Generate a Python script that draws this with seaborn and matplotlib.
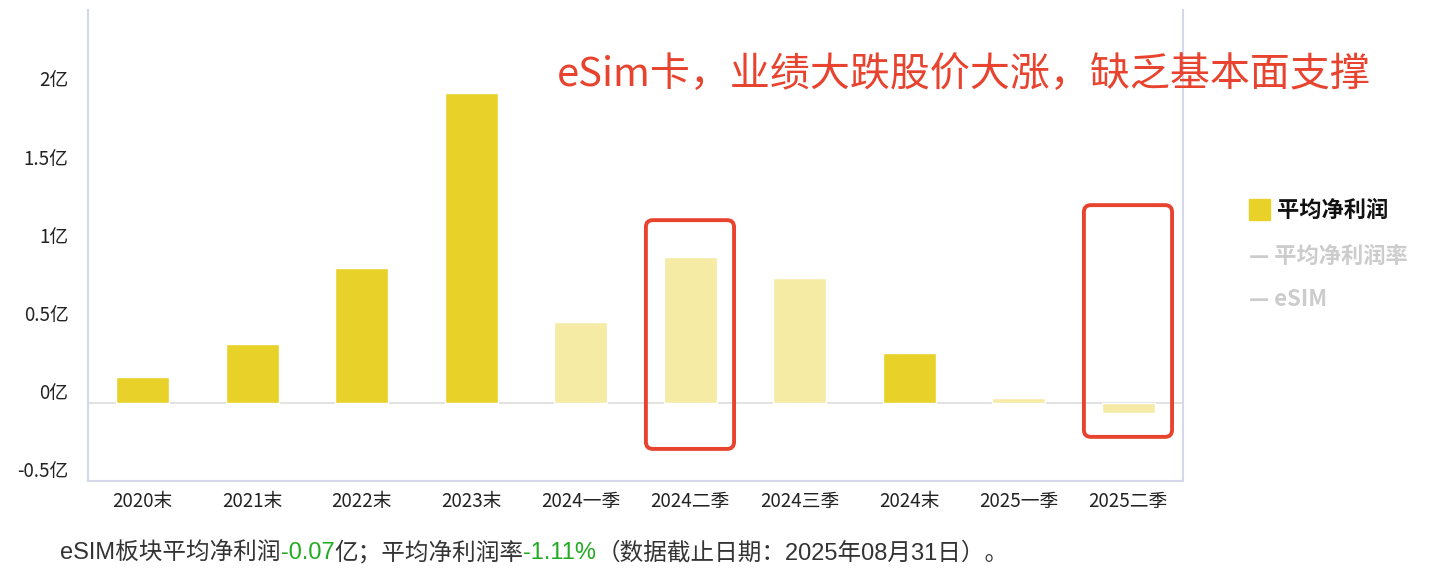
import matplotlib
matplotlib.use("Agg")
import matplotlib.pyplot as plt
import seaborn as sns
from matplotlib.patches import FancyBboxPatch, Rectangle
from matplotlib.transforms import IdentityTransform, ScaledTranslation

categories = ["2020末", "2021末", "2022末", "2023末", "2024一季", "2024二季", "2024三季", "2024末", "2025一季", "2025二季"]
profit = [0.165, 0.375, 0.86, 1.98, 0.515, 0.93, 0.795, 0.315, 0.028, -0.065]
is_quarter = [False, False, False, False, True, True, True, False, True, True]
yticks = [-0.5, 0, 0.5, 1, 1.5, 2]
ytick_labels = ["-0.5亿", "0亿", "0.5亿", "1亿", "1.5亿", "2亿"]

DARK = "#E8D22A"
LIGHT = "#F5EBA5"

sns.set_theme(style="white")
plt.rcParams['font.family'] = ['Noto Sans CJK SC', 'DejaVu Sans']
plt.rcParams['axes.unicode_minus'] = False

fig = plt.figure(figsize=(14.32, 5.78), dpi=100)
ax = fig.add_axes([88/1432, 97/578, 1095/1432, 471/578])

colors = [LIGHT if q else DARK for q in is_quarter]
sns.barplot(x=categories, y=profit, hue=categories, palette=colors, legend=False,
            width=0.48, ax=ax, saturation=1)

ax.set_xlim(-0.5, len(categories) - 0.5)
ax.set_ylim(-0.5, 2.51)
ax.set_yticks(yticks)
ax.set_yticklabels(ytick_labels)
ax.tick_params(axis='y', length=0, pad=14, labelsize=13.5, labelcolor="#222222")
ax.tick_params(axis='x', length=0, pad=7, labelsize=13.5, labelcolor="#222222")
offset = ScaledTranslation(0, 9/100, fig.dpi_scale_trans)
for lab in ax.get_yticklabels():
    lab.set_verticalalignment('center')
    lab.set_transform(lab.get_transform() + offset)
ax.axhline(0, color="#dddddd", lw=1.2, zorder=0)

ax.spines["top"].set_visible(False)
for s in ["left", "bottom", "right"]:
    ax.spines[s].set_color("#d4d8ea")
    ax.spines[s].set_linewidth(1.5)
ax.set_xlabel("")
ax.set_ylabel("")

# red highlight boxes (pixel coords computed from data)
fig.canvas.draw()
boxes = [(5, 1.167, -0.295), (9, 1.263, -0.218)]
for idx, ytop, ybot in boxes:
    x0, y0 = ax.transData.transform((idx - 0.405, ybot))
    x1, y1 = ax.transData.transform((idx + 0.40, ytop))
    p = FancyBboxPatch((x0 + 6, y0 + 6), (x1 - x0) - 12, (y1 - y0) - 12,
                       boxstyle="round,pad=6,rounding_size=7",
                       transform=IdentityTransform(), fill=False,
                       edgecolor="#E8432E", linewidth=2.8, zorder=5)
    fig.add_artist(p)

# title annotation
fig.text(557/1432, 1 - 75/578, "eSim卡，业绩大跌股价大涨，缺乏基本面支撑",
         color="#E8432E", fontsize=28.8, ha="left", va="center")

# legend
fig.add_artist(Rectangle((1249/1432, 1 - 220/578), 21/1432, 21/578,
                         transform=fig.transFigure, color=DARK))
fig.text(1277/1432, 1 - 210/578, "平均净利润", fontsize=16, fontweight="bold",
         color="#111111", ha="left", va="center")
fig.text(1249/1432, 1 - 256/578, "— 平均净利润率", fontsize=16, fontweight="bold",
         color="#cccccc", ha="left", va="center")
fig.text(1249/1432, 1 - 300/578, "— eSIM", fontsize=16, fontweight="bold",
         color="#cccccc", ha="left", va="center")

# bottom note
parts = [("eSIM板块平均净利润", "#333333"), ("-0.07", "#22AA22"), ("亿；平均净利润率", "#333333"),
         ("-1.11%", "#22AA22"), ("（数据截止日期：2025年08月31日）。", "#333333")]
x = 60 / 1432
renderer = fig.canvas.get_renderer()
for txt, col in parts:
    t = fig.text(x, 1 - 553/578, txt, color=col, fontsize=17, ha="left", va="center",
                 family=['Liberation Sans', 'Noto Sans CJK SC'])
    bb = t.get_window_extent(renderer=renderer)
    x += bb.width / 1432

fig.savefig("out.png", dpi=100)
